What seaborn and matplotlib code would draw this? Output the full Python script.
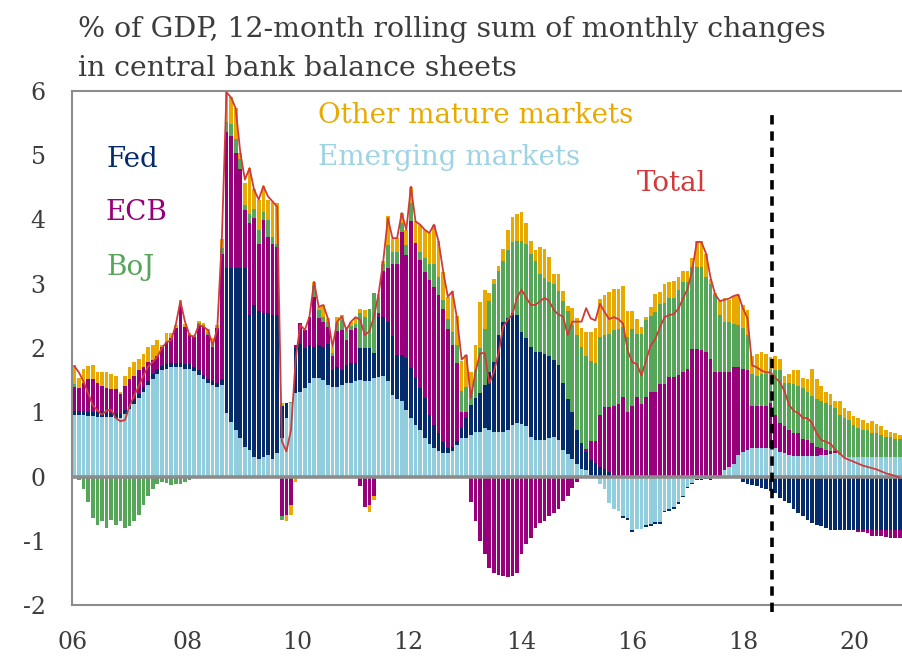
import numpy as np
import pandas as pd
import matplotlib
matplotlib.use("Agg")
import matplotlib.pyplot as plt
import seaborn as sns

# =============================================================================
# DATA: % of GDP, 12-month rolling sum, monthly Jan 2006 - Dec 2020
# =============================================================================

em = [0.95, 0.95, 0.95, 0.94, 0.94, 0.93, 0.93, 0.92, 0.92, 0.91, 0.91, 0.97,
      1.05, 1.13, 1.22, 1.32, 1.42, 1.52, 1.6, 1.65, 1.68, 1.7, 1.7, 1.7,
      1.68, 1.68, 1.64, 1.58, 1.52, 1.45, 1.42, 1.4, 1.42, 0.99, 0.85, 0.73,
      0.6, 0.46, 0.41, 0.31, 0.28, 0.3, 0.33, 0.28, 0.36, 0.6, 0.91, 1.14,
      1.3, 1.32, 1.37, 1.45, 1.53, 1.53, 1.5, 1.43, 1.4, 1.4, 1.43, 1.45,
      1.45, 1.48, 1.5, 1.48, 1.48, 1.53, 1.55, 1.56, 1.48, 1.27, 1.2, 1.17,
      1.04, 0.91, 0.8, 0.73, 0.6, 0.5, 0.45, 0.39, 0.36, 0.36, 0.39, 0.49,
      0.6, 0.6, 0.65, 0.7, 0.7, 0.75, 0.72, 0.7, 0.7, 0.7, 0.73, 0.8,
      0.83, 0.82, 0.78, 0.62, 0.57, 0.57, 0.57, 0.6, 0.62, 0.57, 0.42, 0.35,
      0.27, 0.2, 0.12, 0.1, 0.03, 0.01, -0.11, -0.19, -0.42, -0.5, -0.53, -0.62,
      -0.64, -0.84, -0.81, -0.81, -0.76, -0.74, -0.71, -0.71, -0.53, -0.5, -0.48, -0.4,
      -0.3, -0.16, -0.1, -0.04, -0.04, 0.0, -0.02, 0.0, 0.0, 0.1, 0.15, 0.2,
      0.33, 0.38, 0.41, 0.44, 0.44, 0.44, 0.44, 0.44, 0.44, 0.38, 0.36, 0.33,
      0.32, 0.32, 0.32, 0.32, 0.32, 0.32, 0.33, 0.34, 0.35, 0.36, 0.33, 0.31,
      0.31, 0.31, 0.31, 0.31, 0.31, 0.31, 0.31, 0.31, 0.31, 0.31, 0.31, 0.31]

fed = [0.07, 0.07, 0.07, 0.07, 0.07, 0.07, 0.07, 0.07, 0.07, 0.07, 0.07, 0.07,
       0.07, 0.07, 0.07, 0.07, 0.07, 0.07, 0.07, 0.07, 0.07, 0.07, 0.07, 0.07,
       0.07, 0.07, 0.07, 0.07, 0.06, 0.06, 0.06, 0.05, 0.1, 2.26, 2.4, 2.52,
       2.65, 2.79, 2.11, 2.36, 2.29, 2.24, 2.21, 2.24, 2.16, 0.5, 0.23, 0.0,
       0.7, 0.75, 0.63, 0.6, 0.49, 0.52, 0.52, 0.64, 0.26, 0.31, 0.23, 0.29,
       0.31, 0.28, 0.5, 0.52, 0.52, 0.39, 0.94, 0.93, 0.93, 0.91, 0.69, 0.72,
       0.8, 0.78, 0.73, 0.64, 0.62, 0.46, 0.35, 0.29, 0.18, 0.08, 0.07, 0.06,
       0.15, 0.31, 0.47, 0.52, 0.6, 0.68, 0.9, 1.08, 1.5, 1.71, 1.73, 1.74,
       1.69, 1.43, 1.37, 1.4, 1.37, 1.37, 1.34, 1.28, 1.19, 1.16, 1.04, 0.85,
       0.73, 0.53, 0.4, 0.28, 0.22, 0.2, 0.15, 0.12, 0.07, 0.03, 0.0, -0.03,
       -0.03, -0.03, 0.0, 0.0, -0.02, -0.03, -0.03, -0.03, -0.03, -0.03, -0.03, -0.03,
       -0.02, -0.02, -0.02, -0.02, -0.02, -0.04, -0.03, 0.0, 0.0, 0.0, 0.0, 0.0,
       0.0, -0.08, -0.12, -0.14, -0.15, -0.18, -0.2, -0.22, -0.25, -0.33, -0.38, -0.42,
       -0.5, -0.57, -0.62, -0.68, -0.73, -0.75, -0.77, -0.8, -0.83, -0.83, -0.83, -0.83,
       -0.83, -0.83, -0.83, -0.83, -0.83, -0.83, -0.83, -0.83, -0.83, -0.83, -0.83, -0.83]

ecb = [0.37, 0.36, 0.44, 0.5, 0.5, 0.46, 0.41, 0.39, 0.37, 0.38, 0.3, 0.37,
       0.4, 0.37, 0.36, 0.31, 0.29, 0.22, 0.21, 0.3, 0.34, 0.38, 0.54, 0.9,
       0.58, 0.45, 0.46, 0.71, 0.75, 0.7, 0.54, 0.86, 1.94, 2.11, 2.05, 1.79,
       1.53, 0.9, 1.42, 1.35, 1.05, 1.45, 1.19, 1.1, 1.05, -0.62, -0.6, -0.45,
       0.05, 0.32, 0.28, 0.44, 0.78, 0.41, 0.39, 0.26, 0.21, 0.55, 0.62, 0.39,
       0.52, 0.55, -0.15, -0.47, -0.45, -0.3, 0.05, 0.71, 0.83, 1.12, 1.41, 1.92,
       1.61, 2.28, 2.1, 2.0, 1.97, 2.1, 2.15, 2.15, 2.06, 1.86, 1.59, 1.21,
       0.25, 0.1, -0.4, -0.7, -1.0, -1.2, -1.42, -1.5, -1.53, -1.55, -1.57, -1.55,
       -1.5, -1.2, -1.05, -0.95, -0.8, -0.72, -0.7, -0.62, -0.57, -0.5, -0.38, -0.3,
       -0.18, -0.08, 0.0, 0.05, 0.3, 0.35, 0.8, 0.96, 1.01, 1.07, 1.13, 1.23,
       1.0, 1.1, 1.23, 1.13, 1.23, 1.31, 1.31, 1.44, 1.44, 1.55, 1.55, 1.58,
       1.62, 1.68, 1.99, 1.99, 1.97, 1.94, 1.83, 1.62, 1.62, 1.52, 1.47, 1.5,
       1.37, 1.29, 1.24, 0.65, 0.65, 0.65, 0.65, 0.71, 0.52, 0.45, 0.42, 0.4,
       0.35, 0.35, 0.27, 0.25, 0.2, 0.14, 0.11, 0.07, 0.05, 0.03, 0.01, 0.0,
       0.0, -0.01, -0.04, -0.04, -0.05, -0.09, -0.1, -0.1, -0.11, -0.12, -0.12, -0.13]

boj = [0.05, -0.05, -0.2, -0.4, -0.65, -0.75, -0.7, -0.8, -0.68, -0.75, -0.7, -0.8,
       -0.77, -0.69, -0.6, -0.45, -0.3, -0.2, -0.12, -0.08, -0.1, -0.13, -0.11, -0.11,
       -0.08, -0.05, -0.03, 0.03, 0.03, 0.02, 0.05, -0.02, 0.1, 0.16, 0.18, 0.21,
       0.16, 0.08, 0.15, 0.15, 0.21, 0.13, 0.26, 0.11, 0.05, -0.05, 0.0, 0.02,
       -0.03, -0.03, -0.03, -0.03, 0.16, 0.13, 0.08, 0.08, 0.05, 0.13, 0.16, 0.15,
       0.07, 0.07, 0.55, 0.49, 0.6, 0.93, 0.25, 0.1, 0.36, 0.2, 0.2, 0.14,
       0.15, 0.28, 0.0, 0.13, 0.21, 0.24, 0.35, 0.27, 0.15, 0.15, 0.2, 0.29,
       0.33, 0.39, 0.23, 0.43, 0.7, 0.87, 1.11, 1.21, 1.0, 0.95, 1.06, 1.11,
       1.15, 1.42, 1.47, 1.44, 1.42, 1.21, 1.18, 1.14, 1.18, 1.15, 1.27, 1.37,
       1.36, 1.47, 1.5, 1.45, 1.25, 1.2, 1.22, 1.12, 1.14, 1.18, 1.17, 1.09,
       1.17, 1.2, 0.99, 1.09, 1.2, 1.19, 1.25, 1.24, 1.26, 1.23, 1.23, 1.32,
       1.4, 1.34, 1.27, 1.27, 1.29, 1.16, 1.16, 1.21, 0.9, 0.79, 0.79, 0.68,
       0.66, 0.64, 0.55, 0.5, 0.48, 0.5, 0.5, 0.52, 0.69, 0.82, 0.68, 0.73,
       0.77, 0.74, 0.79, 0.74, 0.73, 0.74, 0.73, 0.74, 0.72, 0.68, 0.62, 0.6,
       0.57, 0.49, 0.44, 0.42, 0.41, 0.37, 0.36, 0.34, 0.31, 0.3, 0.28, 0.27]

other = [0.3, 0.16, 0.21, 0.21, 0.23, 0.16, 0.21, 0.24, 0.23, 0.21, 0.03, 0.16,
         0.18, 0.21, 0.18, 0.21, 0.24, 0.23, 0.24, 0.02, 0.14, 0.08, 0.05, 0.08,
         0.05, 0.03, 0.03, 0.03, 0.03, 0.07, 0.08, 0.05, 0.14, 0.46, 0.42, 0.48,
         0.1, 0.34, 0.71, 0.3, 0.48, 0.4, 0.32, 0.55, 0.63, 0.04, -0.1, -0.15,
         -0.06, 0.0, 0.0, 0.0, 0.07, 0.05, 0.18, 0.05, 0.1, 0.1, 0.08, 0.05,
         0.06, 0.1, 0.05, 0.1, -0.1, -0.06, 0.05, 0.05, 0.45, 0.2, 0.21, 0.15,
         0.24, 0.26, 0.34, 0.42, 0.44, 0.49, 0.62, 0.56, 0.44, 0.35, 0.63, 0.45,
         0.46, 0.49, 0.27, 0.4, 0.72, 0.6, 0.13, 0.08, 0.08, 0.18, 0.31, 0.39,
         0.42, 0.45, 0.32, 0.21, 0.16, 0.42, 0.45, 0.39, 0.16, 0.27, 0.15, 0.08,
         0.26, 0.26, 0.29, 0.37, 0.45, 0.55, 0.6, 0.62, 0.65, 0.64, 0.62, 0.65,
         0.41, 0.28, 0.23, 0.1, 0.05, 0.14, 0.28, 0.19, 0.3, 0.24, 0.27, 0.2,
         0.18, 0.18, 0.14, 0.41, 0.41, 0.37, 0.08, 0.03, 0.21, 0.37, 0.34, 0.43,
         0.47, 0.36, 0.39, 0.29, 0.34, 0.35, 0.31, 0.19, 0.23, 0.18, 0.11, 0.13,
         0.21, 0.24, 0.16, 0.21, 0.42, 0.32, 0.24, 0.16, 0.16, 0.1, 0.21, 0.16,
         0.14, 0.14, 0.16, 0.15, 0.11, 0.18, 0.14, 0.13, 0.11, 0.09, 0.08, 0.07]

total = [1.72, 1.62, 1.48, 1.3, 1.11, 1.03, 0.96, 1.03, 1.04, 0.91, 0.86, 0.88,
         1.1, 1.26, 1.41, 1.57, 1.71, 1.78, 1.86, 2.0, 2.09, 2.12, 2.36, 2.73,
         2.41, 2.2, 2.17, 2.36, 2.33, 2.28, 2.04, 2.3, 3.7, 5.98, 5.9, 5.73,
         5.04, 4.62, 4.8, 4.46, 4.31, 4.52, 4.36, 4.28, 4.2, 0.55, 0.39, 0.73,
         1.82, 2.36, 2.28, 2.49, 3.03, 2.64, 2.67, 2.46, 2.02, 2.41, 2.49, 2.28,
         2.41, 2.48, 2.44, 2.2, 2.26, 2.49, 2.85, 3.35, 4.02, 3.71, 3.71, 4.1,
         3.84, 4.51, 3.97, 3.92, 3.84, 3.79, 3.92, 3.66, 3.19, 2.8, 2.88, 2.46,
         1.82, 1.89, 1.22, 1.63, 1.92, 1.92, 1.45, 1.63, 1.92, 2.33, 2.44, 2.52,
         2.78, 2.91, 2.78, 2.67, 2.67, 2.73, 2.78, 2.73, 2.59, 2.52, 2.49, 2.2,
         2.41, 2.41, 2.41, 2.62, 2.46, 2.43, 2.69, 2.56, 2.45, 2.48, 2.45, 2.38,
         1.96, 1.78, 1.75, 1.57, 1.81, 2.04, 2.14, 2.32, 2.48, 2.51, 2.53, 2.61,
         2.77, 2.92, 3.21, 3.65, 3.65, 3.47, 3.09, 2.83, 2.73, 2.75, 2.77, 2.81,
         2.83, 2.62, 2.46, 1.73, 1.7, 1.65, 1.62, 1.62, 1.54, 1.47, 1.33, 1.12,
         1.02, 0.99, 0.91, 0.91, 0.83, 0.67, 0.57, 0.54, 0.51, 0.42, 0.36, 0.29,
         0.26, 0.23, 0.2, 0.17, 0.15, 0.13, 0.11, 0.08, 0.05, 0.03, 0.01, -0.02]

year_labels = ["06", "08", "10", "12", "14", "16", "18", "20"]
year_ticks = [-0.3, 24.5, 48.3, 72.4, 96.9, 121.0, 145.1, 169.3]
forecast_start = 151.3  # dashed line

names = ["Emerging markets", "Fed", "ECB", "BoJ", "Other mature markets"]
colors = ["#92CDDD", "#062B6B", "#97007A", "#55A658", "#E9AA00"]
red = "#D13A3A"
grey = "#8C8C8C"
txt = "#3C3C3C"

# =============================================================================
# STACKING (positives up, negatives down)
# =============================================================================

months = np.arange(len(em))
vals = np.array([em, fed, ecb, boj, other])
pos_cum = np.clip(vals, 0, None).cumsum(axis=0)
neg_cum = np.clip(vals, None, 0).cumsum(axis=0)

sns.set_theme(style="white")
plt.rcParams["font.family"] = ["DejaVu Serif", "DejaVu Sans"]

fig = plt.figure(figsize=(9.02, 6.65), dpi=100)
ax = fig.add_axes([72 / 902, 1 - 605 / 665, 830 / 902, 514 / 665])

# draw cumulative layers top-down so each lower layer covers the one above
for k in reversed(range(len(names))):
    for layer in (pos_cum[k], neg_cum[k]):
        sns.barplot(x=months, y=layer, native_scale=True, color=colors[k],
                    saturation=1, width=0.8, errorbar=None, linewidth=0, ax=ax)

sns.lineplot(x=months, y=total, color=red, linewidth=1.3, ax=ax, zorder=5)

ax.axhline(0, color=grey, linewidth=2.6, zorder=4)
ax.axvline(forecast_start, ymin=-0.014, ymax=0.96, color="black", linewidth=2.6,
           dashes=(2.6, 1.9), clip_on=False, zorder=6)

ax.set_xlim(-0.5, len(em) - 0.5)
ax.set_ylim(-2, 6)
ax.set_xticks(year_ticks)
ax.set_xticklabels(year_labels)
ax.set_yticks(range(-2, 7))
ax.set_yticklabels([str(v) for v in range(-2, 7)])
ax.tick_params(axis="both", length=0, labelsize=17, colors=txt)
ax.tick_params(axis="x", pad=19)
ax.tick_params(axis="y", pad=19)
ax.set_xlabel("")
ax.set_ylabel("")

for side in ["left", "top", "bottom"]:
    ax.spines[side].set_color(grey)
    ax.spines[side].set_linewidth(1.5)
ax.spines["right"].set_visible(False)

# in-chart labels
lab = dict(transform=ax.transAxes, fontsize=20, va="center", ha="left")
ax.text(0.042, 0.866, "Fed", color=colors[1], **lab)
ax.text(0.040, 0.763, "ECB", color=colors[2], **lab)
ax.text(0.042, 0.656, "BoJ", color=colors[3], **lab)
ax.text(0.296, 0.953, "Other mature markets", color=colors[4], **lab)
ax.text(0.296, 0.870, "Emerging markets", color="#9DD3E3", **lab)
ax.text(0.681, 0.821, "Total", color=red, **lab)

fig.text(78 / 902, 1 - 37 / 665, "% of GDP, 12-month rolling sum of monthly changes",
         fontsize=20.4, color=txt, ha="left", va="baseline")
fig.text(78 / 902, 1 - 76 / 665, "in central bank balance sheets",
         fontsize=20.4, color=txt, ha="left", va="baseline")

fig.savefig("out.png", dpi=100)
